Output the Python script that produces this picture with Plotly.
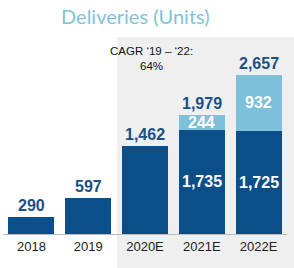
import plotly.graph_objects as go

categories = ["2018", "2019", "2020E", "2021E", "2022E"]
base_units = [290, 597, 1462, 1735, 1725]
extra_units = [0, 0, 0, 244, 932]
totals = [290, 597, 1462, 1979, 2657]
dark_inside = ["", "", "", "1,735", "1,725"]
light_inside = ["", "", "", "244", "932"]
total_labels = ["290", "597", "1,462", "1,979", "2,657"]

DARK = "#0b4f8a"
LIGHT = "#7cc0da"
FONT = "Liberation Sans, Arial, sans-serif"

fig = go.Figure()
fig.add_bar(x=categories, y=base_units, marker_color=DARK, marker_line_width=0)
fig.add_bar(x=categories, y=extra_units, marker_color=LIGHT, marker_line_width=0)

for i, (t, lab) in enumerate(zip(totals, total_labels)):
    fig.add_annotation(x=i, y=t, text="<b>%s</b>" % lab, showarrow=False,
                       yanchor="bottom", yshift=1,
                       font=dict(color="#1b4f88", size=16, family=FONT))

for i, (b, e, dl, ll) in enumerate(zip(base_units, extra_units, dark_inside, light_inside)):
    if dl:
        fig.add_annotation(x=i, y=b / 2, text="<b>%s</b>" % dl, showarrow=False,
                           yanchor="middle", font=dict(color="white", size=16, family=FONT))
    if ll:
        fig.add_annotation(x=i, y=b + e / 2, text="<b>%s</b>" % ll, showarrow=False,
                           yanchor="middle", font=dict(color="white", size=16, family=FONT))

W, H = 294, 268
ml, mr, mt, mb = 3, 7, 60, 34
pw, ph = W - ml - mr, H - mt - mb

def px(x):
    return (x - ml) / pw

def py(y):
    return (H - mb - y) / ph

fig.add_shape(type="rect", xref="paper", yref="paper",
              x0=px(117), x1=px(300), y0=py(270), y1=py(37),
              fillcolor="#efefef", line_width=0, layer="below")

fig.add_annotation(xref="paper", yref="paper", x=px(151), y=py(59),
                   xanchor="center", yanchor="middle",
                   text="CAGR \u201819 \u2013 \u201822:<br>64%", showarrow=False,
                   align="center", font=dict(color="#111111", size=11.5, family=FONT))

fig.add_annotation(xref="paper", yref="paper", x=px(135), y=py(16),
                   xanchor="center", yanchor="middle",
                   text="Deliveries (Units)", showarrow=False,
                   font=dict(color="#7fc4d8", size=20, family="Lato, sans-serif"))

fig.update_layout(
    width=W, height=H, barmode="stack", bargap=0.19,
    margin=dict(l=ml, r=mr, t=mt, b=mb),
    paper_bgcolor="white", plot_bgcolor="rgba(0,0,0,0)",
    showlegend=False,
    xaxis=dict(type="category", categoryorder="array", categoryarray=categories,
               range=[-0.5, len(categories) - 0.5],
               showgrid=False, showline=True, linecolor="#bbbbbb", linewidth=1,
               ticks="", tickfont=dict(color="#222222", size=13, family=FONT)),
    yaxis=dict(visible=False, range=[0, 2900]),
)

fig.write_html("out.html", config={"displayModeBar": False},
               post_script="document.body.style.margin='0';")
